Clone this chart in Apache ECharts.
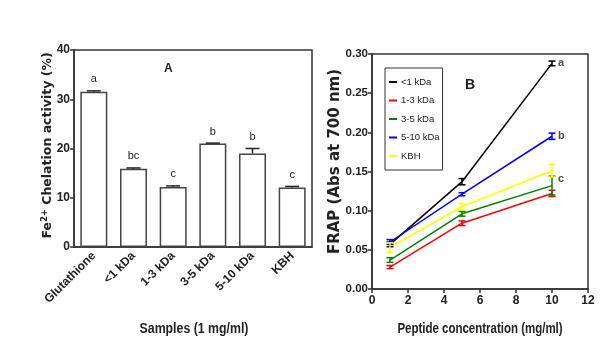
<!DOCTYPE html>
<html>
<head>
<meta charset="utf-8">
<script src="https://cdn.jsdelivr.net/npm/echarts@6/dist/echarts.min.js"></script>
<style>html,body{margin:0;padding:0;background:#fff;}#c{width:600px;height:364px;}</style>
</head>
<body>
<div id="c"></div>
<script>
// Panel A data
const samples = ['Glutathione', '<1 kDa', '1-3 kDa', '3-5 kDa', '5-10 kDa', 'KBH'];
const chelation = [31.5, 15.9, 12.2, 21.0, 19.0, 12.1];
const chelationErr = [0.2, 0.15, 0.2, 0.1, 1.0, 0.2];
const chelationLetters = ['a', 'bc', 'c', 'b', 'b', 'c'];
const yTicksA = [0, 10, 20, 30, 40];

// Panel B data
const conc = [1, 5, 10];
const frapLt1 = [0.057, 0.137, 0.288];
const frapLt1Err = [0.003, 0.004, 0.003];
const frap13 = [0.028, 0.084, 0.122];
const frap13Err = [0.002, 0.003, 0.004];
const frap35 = [0.037, 0.096, 0.132];
const frap35Err = [0.003, 0.003, 0.012];
const frap510 = [0.060, 0.121, 0.195];
const frap510Err = [0.003, 0.002, 0.004];
const frapKBH = [0.053, 0.105, 0.151];
const frapKBHErr = [0.006, 0.004, 0.008];
const frapLetters = [['a', 0.289], ['b', 0.195], ['c', 0.140]];

const FONT = '"Liberation Sans",Arial,sans-serif';
const FONTWIDE = '"DejaVu Sans",Verdana,sans-serif';

const chart = echarts.init(document.getElementById('c'), null, {renderer: 'canvas'});

function errSeriesA() {
  return {
    type: 'custom', xAxisIndex: 0, yAxisIndex: 0, z: 5,
    data: samples.map((s, i) => [i, chelation[i], chelationErr[i]]),
    renderItem: function (params, api) {
      const i = api.value(0), v = api.value(1), e = api.value(2);
      const base = api.coord([i, v]);
      const top = api.coord([i, v + e]);
      const hw = 7;
      return {
        type: 'group',
        children: [
          {type: 'line', shape: {x1: base[0], y1: base[1], x2: top[0], y2: top[1]}, style: {stroke: '#222', lineWidth: 1.5}},
          {type: 'line', shape: {x1: top[0] - hw, y1: top[1], x2: top[0] + hw, y2: top[1]}, style: {stroke: '#222', lineWidth: 1.5}},
          {type: 'text', x: top[0], y: top[1] - 6, style: {text: chelationLetters[i], font: '11px ' + FONT, fill: '#222', align: 'center', verticalAlign: 'bottom'}}
        ]
      };
    }
  };
}

function errSeriesB(name, vals, errs, color) {
  return {
    type: 'custom', name: name + ' err', xAxisIndex: 1, yAxisIndex: 1, z: 4,
    data: conc.map((x, i) => [x, vals[i], errs[i]]),
    renderItem: function (params, api) {
      const x = api.value(0), v = api.value(1), e = api.value(2);
      const top = api.coord([x, v + e]);
      const bot = api.coord([x, v - e]);
      const hw = 3.5;
      const st = {stroke: color, lineWidth: 1.5};
      return {
        type: 'group',
        children: [
          {type: 'line', shape: {x1: top[0], y1: top[1], x2: bot[0], y2: bot[1]}, style: st},
          {type: 'line', shape: {x1: top[0] - hw, y1: top[1], x2: top[0] + hw, y2: top[1]}, style: st},
          {type: 'line', shape: {x1: bot[0] - hw, y1: bot[1], x2: bot[0] + hw, y2: bot[1]}, style: st}
        ]
      };
    }
  };
}

function lineB(name, vals, color) {
  return {
    type: 'line', name: name, xAxisIndex: 1, yAxisIndex: 1, z: 3,
    data: conc.map((x, i) => [x, vals[i]]),
    symbol: 'none', lineStyle: {color: color, width: 1.5}, itemStyle: {color: color}
  };
}

const axisLabelStyle = {color: '#222', fontFamily: FONT, fontWeight: 'bold', fontSize: 12};

const option = {
  animation: false,
  backgroundColor: '#fff',
  grid: [
    {left: 74, top: 50, width: 238, height: 197, show: true, borderColor: '#333', borderWidth: 1.5, backgroundColor: 'transparent'},
    {left: 372, top: 54, width: 216, height: 235, show: true, borderColor: '#333', borderWidth: 1.5, backgroundColor: 'transparent'}
  ],
  title: [
    {text: 'A', left: 159, top: 58, textStyle: {fontFamily: FONT, fontWeight: 'bold', fontSize: 12, color: '#222'}},
    {text: 'B', left: 460, top: 73, textStyle: {fontFamily: FONT, fontWeight: 'bold', fontSize: 14, color: '#222'}}
  ],
  graphic: [
    {type: 'text', x: 194, y: 329, scaleX: 0.88,
      style: {text: 'Samples (1 mg/ml)', font: 'bold 14px ' + FONT, fill: '#222', align: 'center', verticalAlign: 'middle'}},
    {type: 'text', x: 480, y: 329, scaleX: 0.82,
      style: {text: 'Peptide concentration (mg/ml)', font: 'bold 14px ' + FONT, fill: '#222', align: 'center', verticalAlign: 'middle'}}
  ],
  legend: {
    data: ['<1 kDa', '1-3 kDa', '3-5 kDa', '5-10 kDa', 'KBH'],
    orient: 'vertical', left: 385, top: 68,
    padding: [8, 3, 8, 4],
    itemWidth: 8, itemHeight: 2, itemGap: 6.5,
    icon: 'rect',
    borderColor: '#333', borderWidth: 1,
    textStyle: {fontFamily: FONT, fontSize: 9.5, color: '#222', lineHeight: 12, padding: [0, 0, 0, -1]}
  },
  xAxis: [
    {
      type: 'category', gridIndex: 0, data: samples,
      axisLine: {lineStyle: {color: '#333', width: 1.5}},
      axisTick: {alignWithLabel: true, length: 4, lineStyle: {color: '#333', width: 1.5}},
      axisLabel: Object.assign({}, axisLabelStyle, {rotate: 45, margin: 7, fontSize: 12, interval: 0})
    },
    {
      type: 'value', gridIndex: 1, min: 0, max: 12, interval: 2,
      axisLine: {lineStyle: {color: '#333', width: 1.5}},
      axisTick: {length: 4, lineStyle: {color: '#333', width: 1.5}},
      splitLine: {show: false},
      axisLabel: Object.assign({}, axisLabelStyle, {margin: 6})
    }
  ],
  yAxis: [
    {
      type: 'value', gridIndex: 0, min: yTicksA[0], max: yTicksA[yTicksA.length - 1], interval: 10,
      axisLine: {show: true, lineStyle: {color: '#333', width: 1.5}},
      axisTick: {show: true, length: 4, lineStyle: {color: '#333', width: 1.5}},
      splitLine: {show: false},
      axisLabel: Object.assign({}, axisLabelStyle, {margin: 4}),
      name: '{a|Fe}{s|2+}{a| Chelation activity (%)}', nameLocation: 'middle', nameGap: 19,
      nameMoveOverlap: false,
      nameTextStyle: {padding: [0, 0, 0, 6], rich: {
        a: {fontFamily: FONTWIDE, fontWeight: 'bold', fontSize: 12.5, color: '#222'},
        s: {fontFamily: FONTWIDE, fontWeight: 'bold', fontSize: 8.5, color: '#222', verticalAlign: 'top', padding: [0, 0, 6, 0]}
      }}
    },
    {
      type: 'value', gridIndex: 1, min: 0, max: 0.30, interval: 0.05,
      axisLine: {show: true, lineStyle: {color: '#333', width: 1.5}},
      axisTick: {show: true, length: 4, lineStyle: {color: '#333', width: 1.5}},
      splitLine: {show: false},
      axisLabel: Object.assign({}, axisLabelStyle, {margin: 4, fontSize: 11.5, formatter: v => v.toFixed(2)}),
      name: 'FRAP (Abs at 700 nm)', nameLocation: 'middle', nameGap: 29,
      nameMoveOverlap: false,
      nameTextStyle: {fontFamily: FONTWIDE, fontWeight: 'bold', fontSize: 15, color: '#222', padding: [0, 0, 0, 20]}
    }
  ],
  series: [
    {
      type: 'bar', xAxisIndex: 0, yAxisIndex: 0, data: chelation, barWidth: '68%',
      itemStyle: {color: '#fff', borderColor: '#444', borderWidth: 1.5}, z: 2
    },
    errSeriesA(),
    lineB('<1 kDa', frapLt1, '#000000'),
    lineB('1-3 kDa', frap13, '#ff0000'),
    lineB('3-5 kDa', frap35, '#008000'),
    lineB('5-10 kDa', frap510, '#0000ff'),
    lineB('KBH', frapKBH, '#ffff00'),
    errSeriesB('<1 kDa', frapLt1, frapLt1Err, '#000000'),
    errSeriesB('1-3 kDa', frap13, frap13Err, '#ff0000'),
    errSeriesB('3-5 kDa', frap35, frap35Err, '#008000'),
    errSeriesB('5-10 kDa', frap510, frap510Err, '#0000ff'),
    errSeriesB('KBH', frapKBH, frapKBHErr, '#ffff00'),
    {
      type: 'scatter', xAxisIndex: 1, yAxisIndex: 1, symbolSize: 0, z: 6,
      data: frapLetters.map(l => [10, l[1], l[0]]),
      label: {show: true, position: 'right', distance: 6, formatter: p => p.data[2],
        fontFamily: FONT, fontWeight: 'bold', fontSize: 11, color: '#222'}
    }
  ]
};
chart.setOption(option);
</script>
</body>
</html>
